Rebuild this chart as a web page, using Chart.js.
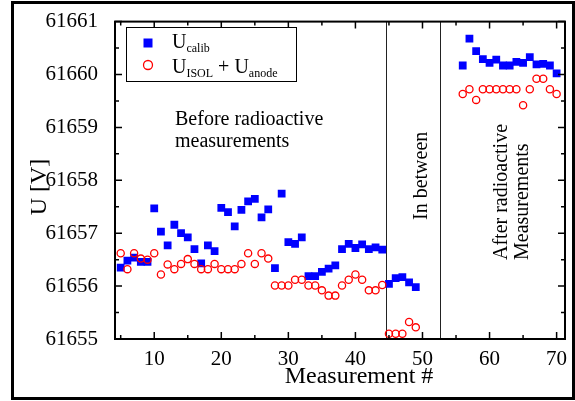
<!DOCTYPE html>
<html>
<head>
<meta charset="utf-8">
<script src="https://cdn.jsdelivr.net/npm/chart.js@4.4.1/dist/chart.umd.min.js"></script>
<style>
  html, body { margin: 0; padding: 0; background: #fff; }
</style>
</head>
<body>
<canvas id="calib__graph" width="575" height="401"></canvas>
<script>
// measurement numbers (no data between 50 and 55)
const measurement = [5, 6, 7, 8, 9, 10, 11, 12, 13, 14, 15, 16, 17, 18, 19, 20, 21, 22, 23, 24,
    25, 26, 27, 28, 29, 30, 31, 32, 33, 34, 35, 36, 37, 38, 39, 40, 41, 42, 43, 44,
    45, 46, 47, 48, 49,
    56, 57, 58, 59, 60, 61, 62, 63, 64, 65, 66, 67, 68, 69, 70];

const uCalib = [61656.35, 61656.48, 61656.54, 61656.46, 61656.46, 61657.47, 61657.03, 61656.77, 61657.16, 61657.00,
    61656.92, 61656.70, 61656.43, 61656.77, 61656.66, 61657.48, 61657.40, 61657.13, 61657.44, 61657.60,
    61657.65, 61657.30, 61657.45, 61656.34, 61657.75, 61656.83, 61656.80, 61656.92, 61656.19, 61656.19,
    61656.27, 61656.33, 61656.39, 61656.70, 61656.80, 61656.72, 61656.79, 61656.70, 61656.73, 61656.69,
    61656.04, 61656.15, 61656.17, 61656.07, 61655.98,
    61660.17, 61660.68, 61660.44, 61660.29, 61660.22, 61660.28, 61660.17, 61660.17, 61660.24, 61660.22,
    61660.33, 61660.19, 61660.20, 61660.17, 61660.02];

const uIsolAnode = [61656.62, 61656.32, 61656.62, 61656.52, 61656.50, 61656.62, 61656.22, 61656.41, 61656.32, 61656.42,
    61656.51, 61656.42, 61656.32, 61656.32, 61656.42, 61656.32, 61656.32, 61656.32, 61656.42, 61656.62,
    61656.42, 61656.62, 61656.52, 61656.01, 61656.01, 61656.01, 61656.12, 61656.12, 61656.01, 61656.01,
    61655.92, 61655.82, 61655.82, 61656.01, 61656.12, 61656.22, 61656.12, 61655.92, 61655.92, 61656.02,
    61655.10, 61655.10, 61655.10, 61655.32, 61655.22,
    61659.63, 61659.72, 61659.52, 61659.72, 61659.72, 61659.72, 61659.72, 61659.72, 61659.72, 61659.42,
    61659.72, 61659.92, 61659.92, 61659.72, 61659.63];

const xTicks = [10, 20, 30, 40, 50, 60, 70];
const xMinorTicks = [5, 15, 25, 35, 45, 55, 65];
const yTicks = [61655, 61656, 61657, 61658, 61659, 61660, 61661];
const yMinorTicks = [61655.5, 61656.5, 61657.5, 61658.5, 61659.5, 61660.5];
const dividers = [44.5, 52.6];

const SERIF = '"Liberation Serif", "Times New Roman", serif';

const toPoints = (ys) => measurement.map((m, i) => ({ x: m, y: ys[i] }));

// frame, inward ticks, separators, legend and labels
const decorations = {
    id: 'decorations',
    beforeDatasetsDraw(chart) {
        const { ctx, chartArea: a, scales: { x } } = chart;
        ctx.save();
        ctx.strokeStyle = '#222';
        ctx.lineWidth = 1;
        dividers.forEach(d => {
            const px = Math.round(x.getPixelForValue(d)) + 0.5;
            ctx.beginPath();
            ctx.moveTo(px, a.top);
            ctx.lineTo(px, a.bottom);
            ctx.stroke();
        });
        ctx.restore();
    },
    afterDraw(chart) {
        const { ctx, chartArea: a, scales: { x, y } } = chart;
        ctx.save();

        // outer frame
        ctx.strokeStyle = '#000';
        ctx.lineWidth = 3;
        ctx.strokeRect(12.5, 2.5, 561, 396);

        // plot box
        ctx.lineWidth = 2;
        ctx.strokeRect(a.left, a.top, a.right - a.left, a.bottom - a.top);

        // inward ticks on all four sides
        ctx.lineWidth = 1.5;
        const tickX = (v, len) => {
            const px = x.getPixelForValue(v);
            ctx.beginPath();
            ctx.moveTo(px, a.bottom); ctx.lineTo(px, a.bottom - len);
            ctx.moveTo(px, a.top); ctx.lineTo(px, a.top + len);
            ctx.stroke();
        };
        const tickY = (v, len) => {
            const py = y.getPixelForValue(v);
            ctx.beginPath();
            ctx.moveTo(a.left, py); ctx.lineTo(a.left + len, py);
            ctx.moveTo(a.right, py); ctx.lineTo(a.right - len, py);
            ctx.stroke();
        };
        xTicks.forEach(v => tickX(v, 7));
        xMinorTicks.forEach(v => tickX(v, 4));
        yTicks.forEach(v => tickY(v, 7));
        yMinorTicks.forEach(v => tickY(v, 4));

        // axis titles
        ctx.fillStyle = '#000';
        ctx.font = '24px ' + SERIF;
        ctx.textAlign = 'center';
        ctx.textBaseline = 'alphabetic';
        ctx.fillText('Measurement #', 359, 383);
        ctx.save();
        ctx.translate(46, 187);
        ctx.rotate(-Math.PI / 2);
        ctx.fillText('U [V]', 0, 0);
        ctx.restore();

        // region labels
        ctx.font = '20px ' + SERIF;
        ctx.textAlign = 'left';
        ctx.fillText('Before radioactive', 175, 125);
        ctx.fillText('measurements', 175, 147);
        const vertical = (text, px, py) => {
            ctx.save();
            ctx.translate(px, py);
            ctx.rotate(-Math.PI / 2);
            ctx.fillText(text, 0, 0);
            ctx.restore();
        };
        vertical('In between', 427, 220);
        vertical('After radioactive', 507, 260);
        vertical('Measurements', 528, 260);

        // legend
        ctx.lineWidth = 1;
        ctx.fillStyle = '#fff';
        ctx.fillRect(126.5, 27.5, 170, 54);
        ctx.strokeStyle = '#000';
        ctx.strokeRect(126.5, 27.5, 170, 54);

        ctx.fillStyle = '#0000ff';
        ctx.fillRect(143.5, 38.5, 9, 9);
        ctx.strokeStyle = '#ff0000';
        ctx.lineWidth = 1.3;
        ctx.beginPath();
        ctx.arc(148, 65, 4.5, 0, Math.PI * 2);
        ctx.stroke();

        ctx.fillStyle = '#000';
        const run = (parts, px, py) => {
            parts.forEach(([text, sub]) => {
                ctx.font = (sub ? '12px ' : '20px ') + SERIF;
                ctx.fillText(text, px, sub ? py + 4 : py);
                px += ctx.measureText(text).width;
            });
        };
        run([['U', false], ['calib', true]], 172, 48);
        run([['U', false], ['ISOL', true], [' + U', false], ['anode', true]], 172, 73);

        ctx.restore();
    }
};

const ctxCalib = document.getElementById('calib__graph').getContext('2d');

const calibChart = new Chart(ctxCalib, {
    type: 'scatter',
    data: {
        datasets: [{
            label: 'U_ISOL + U_anode',
            data: toPoints(uIsolAnode),
            pointStyle: 'circle',
            pointRadius: 3.6,
            pointBorderWidth: 1.3,
            borderColor: '#ff0000',
            backgroundColor: 'rgba(0, 0, 0, 0)',
            order: 0,
        }, {
            label: 'U_calib',
            data: toPoints(uCalib),
            pointStyle: 'rect',
            pointRadius: 5.5,
            pointBorderWidth: 0,
            borderColor: '#0000ff',
            backgroundColor: '#0000ff',
            order: 1,
        }]
    },
    options: {
        responsive: false,
        animation: false,
        devicePixelRatio: 1,
        layout: {
            padding: { top: 19, right: 10, left: 0, bottom: 0 }
        },
        plugins: {
            legend: { display: false },
            tooltip: { enabled: false },
            title: { display: false }
        },
        scales: {
            x: {
                type: 'linear',
                min: 4.15,
                max: 71.25,
                afterBuildTicks: s => { s.ticks = xTicks.map(v => ({ value: v })); },
                afterFit: s => { s.height = 62; },
                ticks: {
                    color: '#000',
                    font: { family: SERIF, size: 21 },
                    padding: 0,
                    maxRotation: 0,
                    autoSkip: false,
                    callback: v => String(v),
                },
                grid: { display: false },
                border: { display: false },
            },
            y: {
                min: 61655,
                max: 61661,
                afterBuildTicks: s => { s.ticks = yTicks.map(v => ({ value: v })); },
                afterFit: s => { s.width = 115; },
                ticks: {
                    color: '#000',
                    font: { family: SERIF, size: 21 },
                    padding: 9,
                    autoSkip: false,
                    callback: v => String(v),
                },
                grid: { display: false },
                border: { display: false },
            }
        }
    },
    plugins: [decorations]
});
</script>
</body>
</html>
